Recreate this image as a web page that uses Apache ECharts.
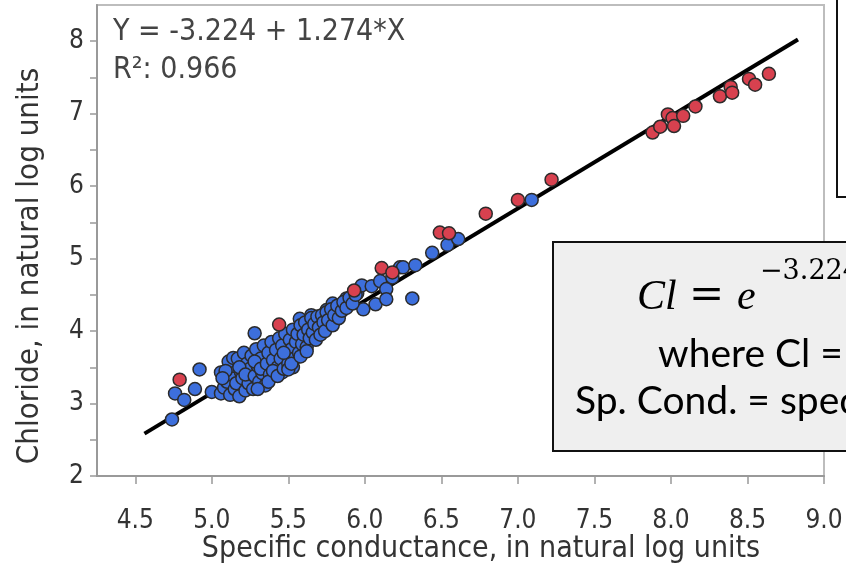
<!DOCTYPE html>
<html><head><meta charset="utf-8">
<script src="https://cdn.jsdelivr.net/npm/echarts@6/dist/echarts.min.js"></script>
<style>html,body{margin:0;padding:0;background:#fff}#c{width:846px;height:568px}</style>
</head><body><div id="c"></div>
<script>
// ---- data ----
const xTicks = [4.5, 5.0, 5.5, 6.0, 6.5, 7.0, 7.5, 8.0, 8.5, 9.0];
const yTicks = [2, 3, 4, 5, 6, 7, 8];
const yMinorTicks = [2, 2.5, 3, 3.5, 4, 4.5, 5, 5.5, 6, 6.5, 7, 7.5, 8];

const bluePoints = [
  [4.74,2.78],[4.76,3.14],[4.82,3.05],[4.89,3.20],[4.92,3.47],[5.00,3.16],[5.06,3.43],[5.28,3.97],
  [5.53,3.50],[5.53,3.62],[5.46,3.43],[5.38,3.36],[5.29,3.29],[5.20,3.27],[5.14,3.36],
  [5.55,3.87],[5.69,4.05],[5.575,4.17],[5.65,4.22],[5.75,4.29],[5.79,4.38],[5.82,4.17],[5.88,4.45],
  [5.95,4.52],[5.98,4.63],[5.99,4.30],[6.045,4.62],[6.07,4.37],[6.10,4.69],[6.14,4.58],[6.14,4.44],
  [6.18,4.74],[6.23,4.88],[6.25,4.88],[6.31,4.45],[6.33,4.91],[6.44,5.08],[6.54,5.19],[6.61,5.27],[7.09,5.81],
  [5.06,3.14],[5.08,3.22],[5.10,3.30],[5.12,3.12],[5.13,3.40],[5.14,3.52],[5.15,3.20],[5.11,3.58],[5.09,3.45],[5.07,3.35],[5.14,3.63],
  [5.16,3.28],[5.17,3.62],[5.18,3.10],[5.19,3.44],[5.20,3.35],[5.21,3.70],[5.22,3.18],[5.23,3.55],[5.24,3.28],[5.25,3.48],[5.18,3.50],[5.22,3.40],
  [5.26,3.66],[5.27,3.20],[5.28,3.38],[5.29,3.75],[5.30,3.52],[5.31,3.30],[5.32,3.62],[5.33,3.42],[5.34,3.80],[5.35,3.25],[5.28,3.58],[5.32,3.48],[5.30,3.20],
  [5.36,3.55],[5.37,3.70],[5.38,3.40],[5.39,3.85],[5.40,3.60],[5.41,3.38],[5.42,3.74],[5.43,3.50],[5.44,3.90],[5.45,3.62],[5.37,3.30],[5.40,3.45],[5.43,3.38],
  [5.46,3.80],[5.47,3.48],[5.48,3.96],[5.49,3.68],[5.50,3.55],[5.51,3.88],[5.52,3.75],[5.53,4.02],[5.54,3.62],[5.55,3.85],[5.47,3.70],[5.50,3.47],[5.52,3.55],
  [5.56,3.96],[5.57,3.70],[5.58,4.08],[5.59,3.82],[5.60,3.95],[5.61,4.12],[5.62,3.78],[5.63,4.02],[5.64,3.90],[5.65,4.18],[5.58,3.65],[5.62,3.72],
  [5.66,3.98],[5.67,4.10],[5.68,3.88],[5.69,4.20],[5.70,4.05],[5.71,3.95],[5.72,4.22],[5.73,4.12],[5.74,4.00],[5.75,4.26],
  [5.76,4.15],[5.78,4.30],[5.79,4.08],[5.80,4.22],[5.82,4.35],[5.83,4.18],[5.85,4.28],
  [5.86,4.40],[5.88,4.32],[5.90,4.46],[5.92,4.38],[5.94,4.50]
];

const redPoints = [
  [4.79,3.33],[5.44,4.09],[5.93,4.56],[6.11,4.87],[6.18,4.81],[6.49,5.36],[6.55,5.35],[6.79,5.62],
  [7.00,5.81],[7.22,6.09],[7.88,6.74],[7.93,6.82],[7.98,6.99],[8.01,6.94],[8.02,6.83],[8.08,6.97],
  [8.16,7.10],[8.32,7.24],[8.39,7.37],[8.40,7.29],[8.51,7.48],[8.55,7.40],[8.64,7.55]
];

const fitLine = [[4.56, 2.585], [8.83, 8.025]];
const fitLabel = 'Y = -3.224 + 1.274*X';
const r2Label = 'R\u00b2: 0.966';
const xTitle = 'Specific conductance, in natural log units';
const yTitle = 'Chloride, in natural log units';
const noteLine2 = 'where Cl = chloride, in milligrams per liter';
const noteLine3 = 'Sp. Cond. = specific conductance, in microsiemens per centimeter';

// ---- chart ----
const NARROW = '"Liberation Sans Narrow","DejaVu Sans Condensed","Liberation Sans",sans-serif';
const chart = echarts.init(document.getElementById('c'), null, {renderer: 'canvas'});
const pointStyle = (c) => ({color: c, borderColor: '#2b2b2b', borderWidth: 1.5, opacity: 1});

chart.setOption({
  animation: false,
  backgroundColor: '#fff',
  grid: {left: 97, right: 22, top: 5, bottom: 92, show: true, borderColor: '#bdbdbd', borderWidth: 2, backgroundColor: 'transparent'},
  xAxis: {
    type: 'value', min: 4.25, max: 9.0,
    axisLine: {show: true, onZero: false, lineStyle: {color: '#999', width: 2}},
    axisTick: {show: true, length: 8, customValues: xTicks, lineStyle: {color: '#999', width: 1.5}},
    axisLabel: {customValues: xTicks, formatter: v => Number(v).toFixed(1), fontFamily: NARROW, fontSize: 26, color: '#333', margin: 32},
    splitLine: {show: false}
  },
  yAxis: {
    type: 'value', min: 2, max: 8.5,
    axisLine: {show: true, onZero: false, lineStyle: {color: '#999', width: 2}},
    axisTick: {show: true, length: 7, customValues: yMinorTicks, lineStyle: {color: '#999', width: 1.5}},
    axisLabel: {customValues: yTicks, formatter: v => String(v), fontFamily: NARROW, fontSize: 26, color: '#333', margin: 13},
    splitLine: {show: false}
  },
  series: [
    {type: 'line', data: fitLine, symbol: 'none', lineStyle: {color: '#000', width: 4}, z: 2, silent: true},
    {type: 'scatter', data: bluePoints, symbolSize: 13, itemStyle: pointStyle('#3d6fdc'), z: 3},
    {type: 'scatter', data: redPoints, symbolSize: 13, itemStyle: pointStyle('#d8414f'), z: 4}
  ],
  graphic: [
    {type: 'text', z: 50, x: 481, y: 549, style: {text: xTitle, font: '30px ' + NARROW, fill: '#333', textAlign: 'center', textVerticalAlign: 'middle'}},
    {type: 'text', z: 50, x: 30, y: 266, rotation: Math.PI / 2, style: {text: yTitle, font: '31px ' + NARROW, fill: '#333', textAlign: 'center', textVerticalAlign: 'middle'}},
    {type: 'text', left: 113, top: 17, z: 50, style: {text: fitLabel, font: '30px ' + NARROW, fill: '#444'}},
    {type: 'text', left: 113, top: 55, z: 50, style: {text: r2Label, font: '30px ' + NARROW, fill: '#444'}},
    {type: 'rect', z: 100, shape: {x: 837, y: -5, width: 30, height: 202}, style: {fill: '#fff', stroke: '#111', lineWidth: 2}},
    {type: 'rect', z: 100, shape: {x: 553, y: 242, width: 320, height: 209}, style: {fill: '#efefef', stroke: '#111', lineWidth: 2}},
    {type: 'text', z: 101, x: 637, y: 298, style: {text: 'Cl', font: 'italic 42px "Liberation Serif",serif', fill: '#000', textVerticalAlign: 'middle'}},
    {type: 'text', z: 101, x: 689, y: 297, style: {text: '=', font: '42px "DejaVu Serif",serif', fill: '#000', textVerticalAlign: 'middle'}},
    {type: 'text', z: 101, x: 737, y: 298, style: {text: 'e', font: 'italic 42px "Liberation Serif",serif', fill: '#000', textVerticalAlign: 'middle'}},
    {type: 'text', z: 101, x: 760, y: 272, style: {text: '\u22123.224', font: '27px "DejaVu Serif",serif', fill: '#000', textVerticalAlign: 'middle'}},
    {type: 'text', z: 101, x: 658, y: 354, style: {text: noteLine2, font: '39px Lato,sans-serif', fill: '#000', textVerticalAlign: 'middle'}},
    {type: 'text', z: 101, x: 575, y: 401, style: {text: noteLine3, font: '39px Lato,sans-serif', fill: '#000', textVerticalAlign: 'middle'}}
  ]
});
</script>
</body></html>
